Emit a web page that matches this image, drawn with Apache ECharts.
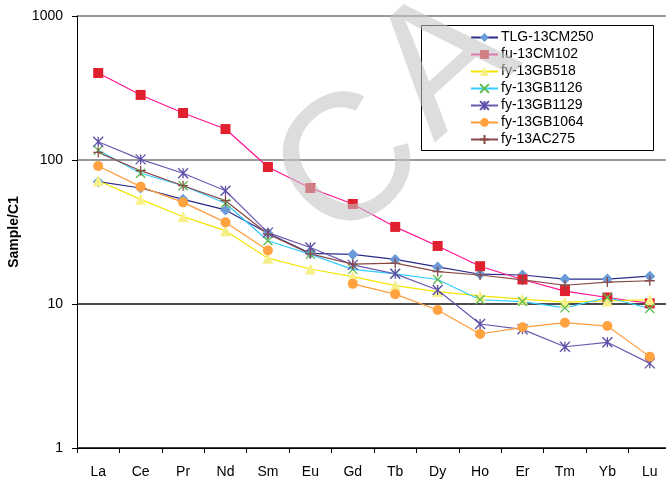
<!DOCTYPE html>
<html>
<head>
<meta charset="utf-8">
<script src="https://cdn.jsdelivr.net/npm/echarts@6/dist/echarts.min.js"></script>
<style>html,body{margin:0;padding:0;background:#fff}#c{width:666px;height:481px}</style>
</head>
<body>
<div id="c"></div>
<script>
var categories = ['La','Ce','Pr','Nd','Sm','Eu','Gd','Tb','Dy','Ho','Er','Tm','Yb','Lu'];
var yTicks = [1, 10, 100, 1000];
var TLG_13CM250 = [70.7, 63.9, 53.3, 45.0, 31.0, 22.5, 22.1, 20.4, 18.1, 16.1, 15.9, 14.9, 14.9, 15.6];
var fu_13CM102  = [402, 283, 212, 164, 89.4, 63.9, 49.5, 34.3, 25.3, 18.3, 14.8, 12.3, 11.1, 10.1];
var fy_13GB518  = [71.8, 53.3, 40.4, 32.3, 20.8, 17.5, 15.5, 13.4, 12.2, 11.4, 10.8, 10.3, 10.5, 10.7];
var fy_13GB1126 = [117, 80.9, 66.3, 50.1, 27.5, 22.1, 17.4, 16.2, 14.8, 10.7, 10.4, 9.4, 11.1, 9.3];
var fy_13GB1129 = [134, 101, 80.9, 61.2, 31.3, 24.7, 18.7, 16.2, 12.5, 7.26, 6.67, 5.05, 5.42, 3.87];
var fy_13GB1064 = [90.8, 65.3, 50.8, 36.9, 23.5, null, 13.8, 11.7, 9.09, 6.19, 6.89, 7.42, 7.03, 4.31];
var fy_13AC275  = [113, 84.3, 66.3, 52.2, 30.6, 22.3, 18.9, 19.2, 16.8, 15.9, 14.7, 13.5, 14.2, 14.5];

var FONT = "'Liberation Sans', Arial, sans-serif";
var X_PATH = 'path://M0,0L10,10M10,0L0,10';
var STAR_PATH = 'path://M0,0L10,10M10,0L0,10M5,0L5,10';
var PLUS_PATH = 'path://M5,0L5,10M0,5L10,5';
var WM_ROT = 42 * Math.PI / 180;
var WM_FILL = 'rgba(196,196,196,0.58)';
var WM_FONT = "180px 'Liberation Sans', Arial, sans-serif";

function mk(name, data, lineColor, symbol, markColor, size, stroke) {
  return {
    name: name, type: 'line', data: data, symbol: symbol, symbolSize: size,
    showAllSymbol: true, connectNulls: false, animation: false,
    lineStyle: {color: lineColor, width: 1.2},
    itemStyle: stroke ? {color: markColor, borderColor: markColor, borderWidth: 1.3}
                      : {color: markColor, borderWidth: 0},
    emphasis: {disabled: true}
  };
}

var chart = echarts.init(document.getElementById('c'), null, {renderer: 'canvas'});
chart.setOption({
  animation: false,
  backgroundColor: '#fff',
  grid: {left: 77, top: 16, bottom: 33, right: -5, containLabel: false, outerBoundsMode: 'none'},
  xAxis: {
    type: 'category', data: categories, boundaryGap: true,
    axisLine: {lineStyle: {color: '#000', width: 1}},
    axisTick: {show: true, length: 5, lineStyle: {color: '#000'}},
    axisLabel: {fontFamily: FONT, fontSize: 14, color: '#000', margin: 17}
  },
  yAxis: {
    type: 'log', logBase: 10, min: 1, max: 1000,
    name: 'Sample/C1', nameLocation: 'middle', nameGap: 48, nameRotate: 90,
    nameTextStyle: {fontFamily: FONT, fontSize: 14, fontWeight: 'bold', color: '#000'},
    axisLine: {show: true, lineStyle: {color: '#000', width: 1}},
    axisTick: {show: true, length: 5, lineStyle: {color: '#000'}},
    axisLabel: {fontFamily: FONT, fontSize: 14, color: '#000', margin: 14,
                formatter: function (v) { return String(v); }},
    splitLine: {show: true, lineStyle: {color: ['#000', '#111', '#777', '#777'], width: 1.5}}
  },
  legend: {
    orient: 'vertical', left: 470, top: 29, itemWidth: 27, itemHeight: 11, itemGap: 0,
    textStyle: {fontFamily: FONT, fontSize: 14, color: '#000', lineHeight: 17, padding: [0, 0, 0, -2]},
    padding: 0, z: 5,
    data: ['TLG-13CM250','fu-13CM102','fy-13GB518','fy-13GB1126','fy-13GB1129','fy-13GB1064','fy-13AC275']
  },
  graphic: [
    {type: 'rect', z: 3, shape: {x: 421.5, y: 25.5, width: 232, height: 125},
     style: {fill: '#fff', stroke: '#000', lineWidth: 1}},
    {type: 'text', z: 100, x: 352, y: 168, rotation: WM_ROT,
     style: {text: 'C', font: WM_FONT,
             fill: WM_FILL, textAlign: 'center', textVerticalAlign: 'middle'}},
    {type: 'text', z: 100, x: 446, y: 66, rotation: WM_ROT,
     style: {text: 'A', font: WM_FONT,
             fill: WM_FILL, textAlign: 'center', textVerticalAlign: 'middle'}}
  ],
  series: [
    mk('TLG-13CM250', TLG_13CM250, '#2B2B8A', 'diamond', '#6A9BD8', 11, false),
    mk('fu-13CM102', fu_13CM102, '#FF1493', 'rect', '#E0202E', 10, false),
    mk('fy-13GB518', fy_13GB518, '#F2E600', 'triangle', '#F7F08A', 11, false),
    mk('fy-13GB1126', fy_13GB1126, '#33CCFF', X_PATH, '#5DBB4E', 9, true),
    mk('fy-13GB1129', fy_13GB1129, '#6A5AB0', STAR_PATH, '#5B4FA8', 10, true),
    mk('fy-13GB1064', fy_13GB1064, '#FF9B3A', 'circle', '#FFA23F', 10, false),
    mk('fy-13AC275', fy_13AC275, '#8B4A4A', PLUS_PATH, '#8B4A4A', 10, true)
  ]
});
</script>
</body>
</html>
